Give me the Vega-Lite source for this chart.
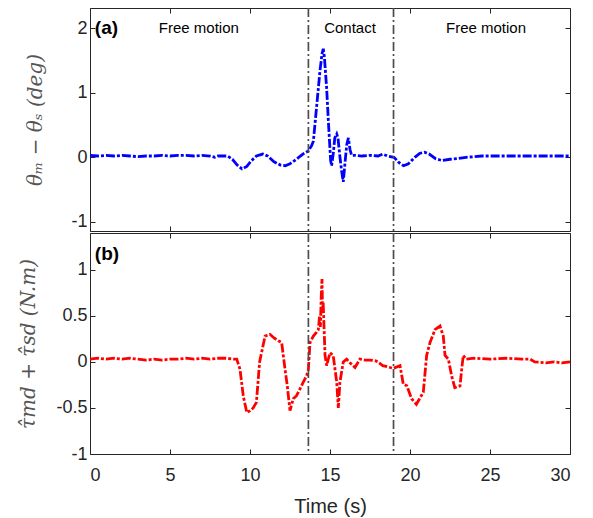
{
  "$schema": "https://vega.github.io/schema/vega-lite/v6.json",
  "padding": {"left": 18, "top": 7, "right": 5, "bottom": 5},
  "background": "white",
  "spacing": 0,
  "config": {
    "view": {"stroke": null},
    "axis": {
      "domainColor": "#262626", "tickColor": "#262626", "labelColor": "#262626",
      "labelFont": "Liberation Sans", "labelFontSize": 18, "grid": false,
      "tickSize": -5, "domainWidth": 1, "tickWidth": 1
    },
    "text": {"font": "Liberation Sans"}
  },
  "datasets": {
    "theta": [
      {"t":0,"v":0.03},{"t":0.5,"v":0.02},{"t":1,"v":0.03},{"t":1.5,"v":0.02},{"t":2,"v":0.03},{"t":2.5,"v":0.02},{"t":3,"v":0.01},{"t":3.5,"v":0.02},{"t":4,"v":0.02},{"t":4.5,"v":0.03},{"t":5,"v":0.02},{"t":5.5,"v":0.03},{"t":6,"v":0.03},{"t":6.5,"v":0.02},{"t":7,"v":0.03},{"t":7.5,"v":0.02},{"t":7.8,"v":0.0},{"t":8.0,"v":0.02},{"t":8.3,"v":0.02},{"t":8.6,"v":0.02},{"t":8.9,"v":-0.03},{"t":9.2,"v":-0.12},{"t":9.5,"v":-0.18},{"t":9.8,"v":-0.14},{"t":10.1,"v":-0.05},{"t":10.4,"v":0.02},{"t":10.8,"v":0.05},{"t":11.1,"v":0.02},{"t":11.5,"v":-0.07},{"t":11.9,"v":-0.12},{"t":12.2,"v":-0.13},{"t":12.5,"v":-0.1},{"t":12.9,"v":-0.03},{"t":13.3,"v":0.05},{"t":13.65,"v":0.1},{"t":13.85,"v":0.18},{"t":13.96,"v":0.25},{"t":14.17,"v":0.8},{"t":14.37,"v":1.33},{"t":14.5,"v":1.6},{"t":14.58,"v":1.68},{"t":14.65,"v":1.55},{"t":14.79,"v":1.07},{"t":14.9,"v":0.55},{"t":15.04,"v":-0.05},{"t":15.1,"v":-0.13},{"t":15.2,"v":0.05},{"t":15.3,"v":0.3},{"t":15.42,"v":0.36},{"t":15.5,"v":0.3},{"t":15.6,"v":0.05},{"t":15.72,"v":-0.2},{"t":15.83,"v":-0.38},{"t":15.95,"v":-0.05},{"t":16.05,"v":0.2},{"t":16.15,"v":0.3},{"t":16.25,"v":0.12},{"t":16.35,"v":0.03},{"t":16.6,"v":0.03},{"t":17,"v":0.02},{"t":17.5,"v":0.03},{"t":18,"v":0.02},{"t":18.3,"v":0.05},{"t":18.6,"v":0.02},{"t":19,"v":0.0},{"t":19.3,"v":-0.08},{"t":19.6,"v":-0.13},{"t":19.9,"v":-0.1},{"t":20.3,"v":0.0},{"t":20.6,"v":0.06},{"t":20.9,"v":0.08},{"t":21.2,"v":0.05},{"t":21.6,"v":-0.02},{"t":22.0,"v":-0.05},{"t":22.5,"v":-0.03},{"t":23,"v":-0.02},{"t":23.5,"v":0.0},{"t":24,"v":0.01},{"t":24.5,"v":0.02},{"t":25,"v":0.02},{"t":26,"v":0.02},{"t":27,"v":0.02},{"t":28,"v":0.02},{"t":29,"v":0.02},{"t":30,"v":0.02}
    ],
    "tau": [
      {"t":0,"v":0.03},{"t":0.5,"v":0.04},{"t":1,"v":0.03},{"t":1.5,"v":0.04},{"t":2,"v":0.03},{"t":2.5,"v":0.04},{"t":3,"v":0.03},{"t":3.5,"v":0.02},{"t":4,"v":0.03},{"t":4.5,"v":0.02},{"t":5,"v":0.03},{"t":5.5,"v":0.03},{"t":6,"v":0.04},{"t":6.5,"v":0.03},{"t":7,"v":0.04},{"t":7.5,"v":0.03},{"t":8,"v":0.04},{"t":8.5,"v":0.04},{"t":9.0,"v":0.03},{"t":9.17,"v":0.03},{"t":9.375,"v":-0.08},{"t":9.58,"v":-0.37},{"t":9.8,"v":-0.55},{"t":10.0,"v":-0.53},{"t":10.2,"v":-0.5},{"t":10.4,"v":-0.44},{"t":10.6,"v":0.0},{"t":10.94,"v":0.28},{"t":11.25,"v":0.3},{"t":11.5,"v":0.26},{"t":11.77,"v":0.23},{"t":11.98,"v":0.21},{"t":12.19,"v":-0.08},{"t":12.33,"v":-0.26},{"t":12.5,"v":-0.53},{"t":12.7,"v":-0.4},{"t":12.9,"v":-0.37},{"t":13.1,"v":-0.3},{"t":13.33,"v":-0.22},{"t":13.54,"v":-0.15},{"t":13.65,"v":-0.08},{"t":13.75,"v":0.21},{"t":13.96,"v":0.28},{"t":14.15,"v":0.32},{"t":14.27,"v":0.35},{"t":14.35,"v":0.5},{"t":14.4,"v":0.38},{"t":14.45,"v":0.7},{"t":14.5,"v":0.9},{"t":14.53,"v":0.6},{"t":14.58,"v":0.61},{"t":14.69,"v":0.07},{"t":14.79,"v":-0.04},{"t":15.0,"v":0.1},{"t":15.2,"v":0.07},{"t":15.42,"v":-0.22},{"t":15.52,"v":-0.5},{"t":15.62,"v":-0.22},{"t":15.83,"v":0.0},{"t":16.04,"v":0.03},{"t":16.25,"v":-0.01},{"t":16.56,"v":-0.06},{"t":16.87,"v":0.03},{"t":17.2,"v":0.02},{"t":17.5,"v":0.02},{"t":17.9,"v":0.01},{"t":18.3,"v":-0.04},{"t":18.96,"v":-0.07},{"t":19.375,"v":-0.04},{"t":19.58,"v":-0.24},{"t":19.8,"v":-0.26},{"t":20.1,"v":-0.4},{"t":20.4,"v":-0.46},{"t":20.83,"v":-0.33},{"t":21.04,"v":0.07},{"t":21.25,"v":0.21},{"t":21.56,"v":0.35},{"t":21.875,"v":0.39},{"t":22.08,"v":0.28},{"t":22.19,"v":0.07},{"t":22.4,"v":0.03},{"t":22.6,"v":-0.15},{"t":22.8,"v":-0.28},{"t":23.125,"v":-0.26},{"t":23.23,"v":-0.08},{"t":23.33,"v":0.07},{"t":23.5,"v":0.03},{"t":24,"v":0.04},{"t":25,"v":0.03},{"t":26,"v":0.04},{"t":27,"v":0.03},{"t":27.5,"v":0.03},{"t":27.8,"v":0.0},{"t":28.5,"v":-0.01},{"t":29,"v":0.0},{"t":29.5,"v":-0.01},{"t":30,"v":0.0}
    ],
    "phases": [{"t": 13.65}, {"t": 18.97}],
    "labelsA": [
      {"t": 6.8, "v": 2.0, "label": "Free motion"},
      {"t": 16.25, "v": 2.0, "label": "Contact"},
      {"t": 24.75, "v": 2.0, "label": "Free motion"}
    ],
    "tagA": [{"t": 0.3, "v": 2.0, "label": "(a)"}],
    "tagB": [{"t": 0.3, "v": 1.17, "label": "(b)"}]
  },
  "vconcat": [
    {
      "width": 480, "height": 223,
      "resolve": {"axis": {"x": "independent", "y": "independent"}},
      "layer": [
        {
          "data": {"name": "theta"},
          "mark": {"type": "line", "color": "#0000ff", "strokeWidth": 2.8, "strokeDash": [9, 2, 3, 2]},
          "encoding": {
            "x": {"field": "t", "type": "quantitative", "scale": {"domain": [0, 30], "nice": false},
                  "axis": {"orient": "bottom", "values": [0,5,10,15,20,25,30], "labels": false, "title": null}},
            "y": {"field": "v", "type": "quantitative", "scale": {"domain": [-1.14, 2.31], "nice": false, "zero": false},
                  "axis": {"orient": "left", "values": [-1,0,1,2], "labelExpr": "'' + datum.value", "labelPadding": 8,
                           "title": "θₘ − θₛ (deg)", "titleFont": "DejaVu Serif", "titleFontStyle": "italic", "titleFontWeight": "normal",
                           "titleFontSize": 20, "titleColor": "#555555", "titlePadding": 25}}
          }
        },
        {
          "data": {"name": "phases"},
          "mark": {"type": "rule", "color": "#4d4d4d", "strokeWidth": 1.7, "strokeDash": [9, 3, 2, 3]},
          "encoding": {"x": {"field": "t", "type": "quantitative", "axis": null}}
        },
        {
          "data": {"name": "tagA"},
          "mark": {"type": "text", "align": "left", "baseline": "middle", "fontSize": 19, "fontWeight": "bold", "color": "#000000"},
          "encoding": {
            "x": {"field": "t", "type": "quantitative", "axis": null},
            "y": {"field": "v", "type": "quantitative", "axis": null},
            "text": {"field": "label"}
          }
        },
        {
          "data": {"name": "labelsA"},
          "mark": {"type": "text", "align": "center", "baseline": "middle", "fontSize": 15, "color": "#000000"},
          "encoding": {
            "x": {"field": "t", "type": "quantitative",
                  "axis": {"orient": "top", "values": [0,5,10,15,20,25,30], "labels": false, "title": null}},
            "y": {"field": "v", "type": "quantitative",
                  "axis": {"orient": "right", "values": [-1,0,1,2], "labels": false, "title": null}},
            "text": {"field": "label"}
          }
        }
      ]
    },
    {
      "width": 480, "height": 221,
      "resolve": {"axis": {"x": "independent", "y": "independent"}},
      "layer": [
        {
          "data": {"name": "tau"},
          "mark": {"type": "line", "color": "#ff0000", "strokeWidth": 2.8, "strokeDash": [9, 2, 3, 2]},
          "encoding": {
            "x": {"field": "t", "type": "quantitative", "scale": {"domain": [0, 30], "nice": false},
                  "axis": {"orient": "bottom", "values": [0,5,10,15,20,25,30], "labelPadding": 17,
                           "title": "Time (s)", "titleFont": "Liberation Sans", "titleFontSize": 20, "titleFontWeight": "normal",
                           "titleColor": "#262626", "titlePadding": 12}},
            "y": {"field": "v", "type": "quantitative", "scale": {"domain": [-1, 1.4], "nice": false, "zero": false},
                  "axis": {"orient": "left", "values": [-1,-0.5,0,0.5,1], "labelExpr": "'' + datum.value", "labelPadding": 8,
                           "title": "τ̂md + τ̂sd (N.m)", "titleFont": "DejaVu Serif", "titleFontStyle": "italic", "titleFontWeight": "normal",
                           "titleFontSize": 20, "titleColor": "#555555", "titlePadding": 17}}
          }
        },
        {
          "data": {"name": "phases"},
          "mark": {"type": "rule", "color": "#4d4d4d", "strokeWidth": 1.7, "strokeDash": [9, 3, 2, 3]},
          "encoding": {"x": {"field": "t", "type": "quantitative", "axis": null}}
        },
        {
          "data": {"name": "tagB"},
          "mark": {"type": "text", "align": "left", "baseline": "middle", "fontSize": 19, "fontWeight": "bold", "color": "#000000"},
          "encoding": {
            "x": {"field": "t", "type": "quantitative",
                  "axis": {"orient": "top", "values": [0,5,10,15,20,25,30], "labels": false, "title": null}},
            "y": {"field": "v", "type": "quantitative",
                  "axis": {"orient": "right", "values": [-1,-0.5,0,0.5,1], "labels": false, "title": null}},
            "text": {"field": "label"}
          }
        }
      ]
    }
  ]
}
